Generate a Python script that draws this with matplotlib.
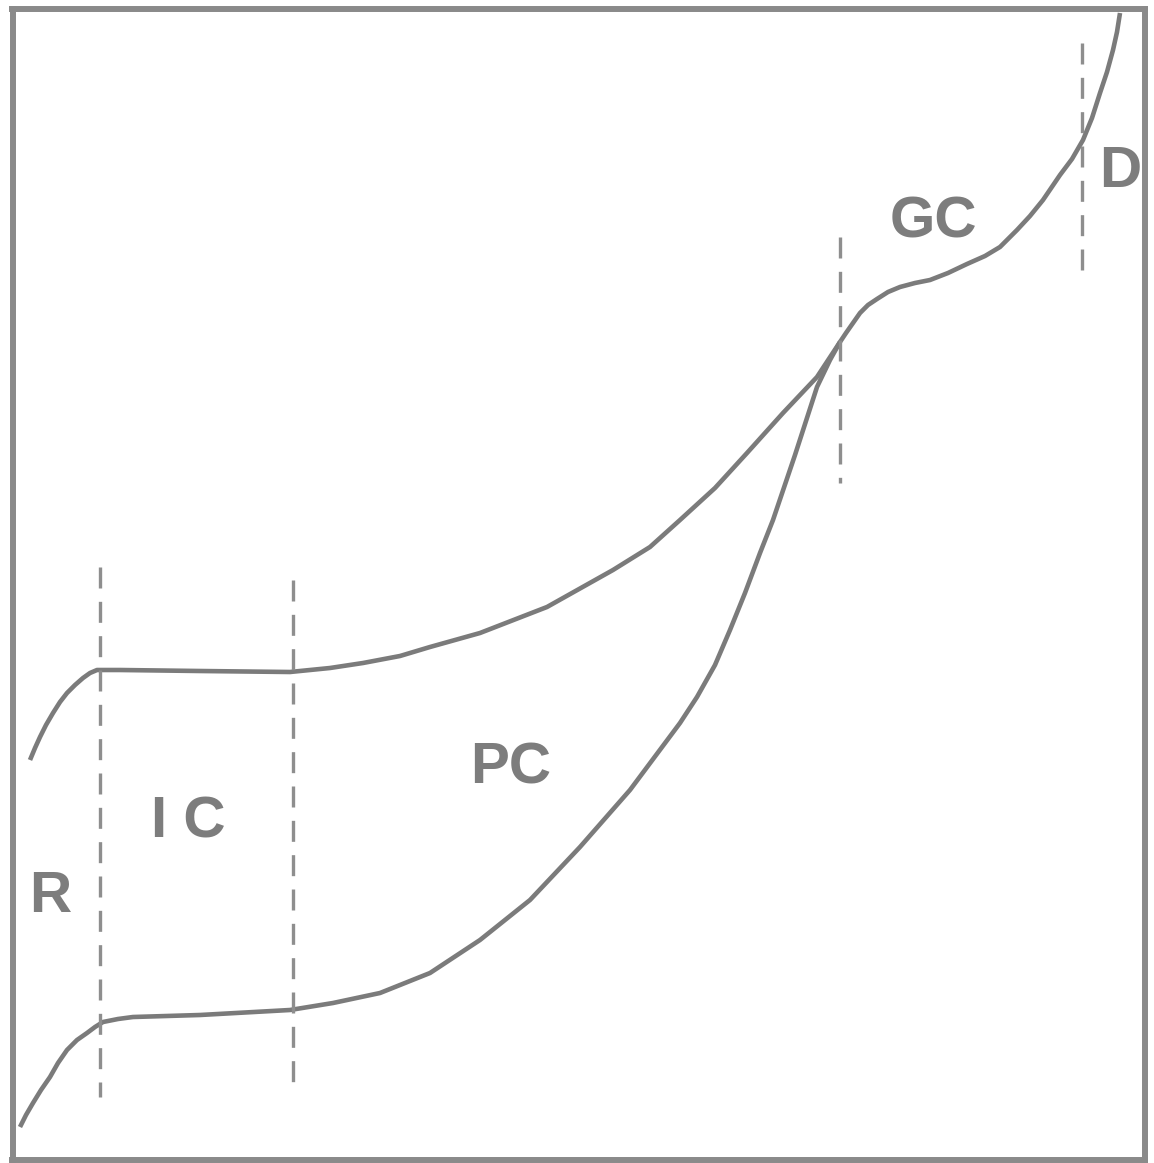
import numpy as np
import matplotlib.pyplot as plt
import matplotlib as mpl

mpl.rcParams['font.family'] = ['Liberation Sans', 'DejaVu Sans']

# upper curve (pixel-like units, y downwards)
upper_x = [30, 35, 40, 46, 53, 60, 67, 75, 83, 90, 97, 120, 200, 290, 330, 363, 400,
           430, 480, 547, 613, 650, 680, 715, 747, 783, 817, 840, 846, 853, 860,
           868, 877, 888, 900, 915, 930, 948, 967, 985, 1000, 1017, 1030, 1043,
           1060, 1072, 1083, 1092, 1100, 1107, 1113, 1117, 1120]
upper_y = [760, 748, 737, 725, 713, 702, 693, 685, 678, 673, 670, 670, 671, 672, 668,
           663, 656, 647, 633, 607, 570, 547, 520, 488, 453, 413, 377, 342, 333,
           323, 313, 305, 299, 292, 287, 283, 280, 273, 264, 256, 247, 230, 216,
           200, 175, 159, 140, 118, 93, 72, 50, 32, 13]

# lower curve
lower_x = [20, 26, 33, 41, 50, 58, 67, 77, 87, 95, 103, 118, 133, 200, 290, 333,
           380, 430, 480, 530, 580, 630, 680, 697, 715, 730, 745, 760, 773, 795,
           817, 830, 840]
lower_y = [1127, 1115, 1103, 1090, 1077, 1063, 1050, 1040, 1033, 1027, 1022, 1019,
           1017, 1015, 1010, 1003, 993, 973, 940, 900, 847, 790, 723, 697, 665, 630,
           593, 553, 520, 455, 387, 360, 342]

# dashed stage boundaries: x, top, bottom
bound_x = [100, 293, 840, 1082]
bound_top = [567, 580, 237, 43]
bound_bot = [1097, 1092, 483, 272]

# stage labels
labels = ['R', 'I C', 'PC', 'GC', 'D']
label_x = [50, 188, 511, 933, 1120]
label_y = [912, 838, 783, 238, 187]

fig = plt.figure(figsize=(11.54, 11.63), dpi=100)
ax = fig.add_axes([12.5 / 1154, (1163 - 1160) / 1163,
                   (1145 - 12.5) / 1154, (1160 - 8.5) / 1163])
ax.set_xlim(12.5, 1145)
ax.set_ylim(1160, 8.5)
ax.set_xticks([])
ax.set_yticks([])
for s in ax.spines.values():
    s.set_color('#8a8a8a')
    s.set_linewidth(4.3)

line_col = '#7b7b7b'
ax.plot(upper_x, upper_y, color=line_col, lw=3.3, solid_capstyle='butt')
ax.plot(lower_x, lower_y, color=line_col, lw=3.3, solid_capstyle='butt')

for x, t, b in zip(bound_x, bound_top, bound_bot):
    ax.plot([x, x], [t, b], color='#8e8e8e', lw=2.4, dashes=(6.3, 4.0))

for lab, x, y in zip(labels, label_x, label_y):
    ax.text(x, y, lab, ha='center', va='baseline', fontsize=42,
            fontweight='bold', color='#7d7d7d')

plt.savefig('out.png', dpi=100)
plt.close()
